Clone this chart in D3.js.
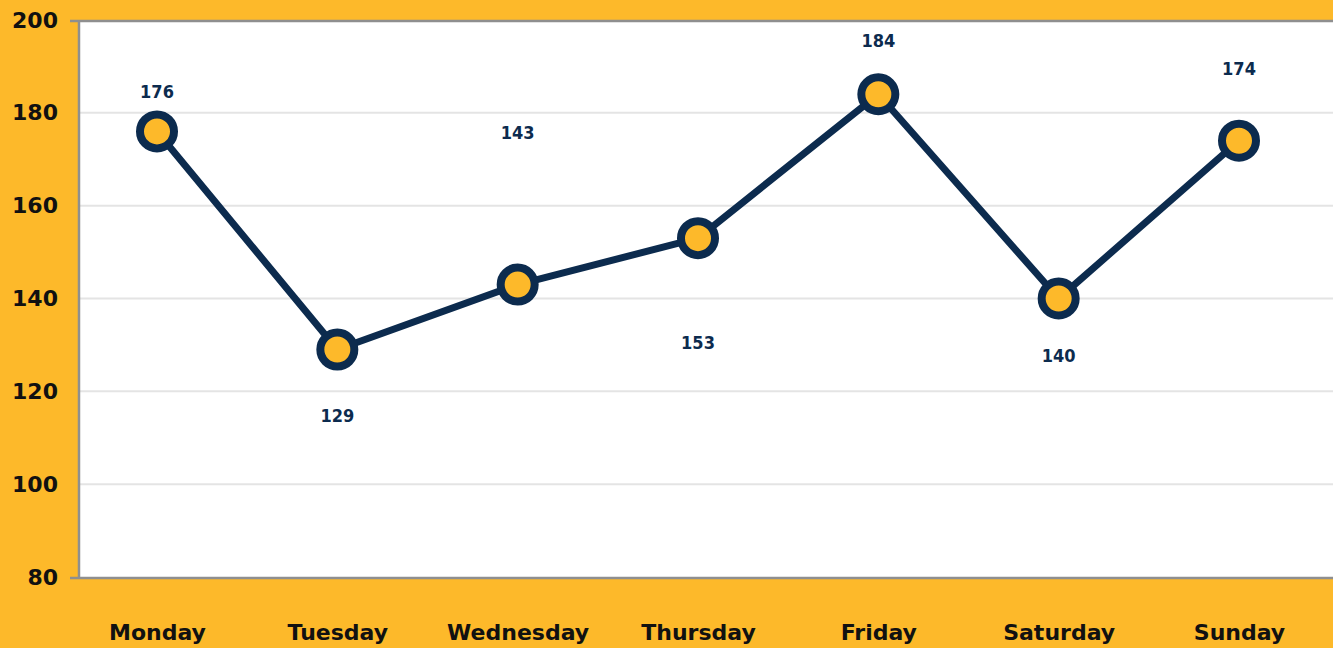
<!DOCTYPE html>
<html>
<head>
<meta charset="utf-8">
<script src="https://cdn.jsdelivr.net/npm/d3@7"></script>
<style>
  html, body { margin: 0; padding: 0; background: #FDB92A; }
  svg { display: block; }
</style>
</head>
<body>
<svg id="chart" width="1333" height="648"></svg>
<script>
// Weekly values, one per day
const days = ["Monday", "Tuesday", "Wednesday", "Thursday", "Friday", "Saturday", "Sunday"];
const values = [176, 129, 143, 153, 184, 140, 174];
const yTicks = [80, 100, 120, 140, 160, 180, 200];

// Vertical offset (px) of each value label from its point; negative = above
const labelOffsets = [-40, 66, -152, 104, -54, 57, -72];

const W = 1333, H = 648;
const plot = { left: 79, right: 1333, top: 20, bottom: 577 };
const navy = "#0c2b4e";
const gold = "#FDB92A";

const svg = d3.select("#chart");

const x = d3.scalePoint().domain(days).range([157, 1239]);
const y = d3.scaleLinear().domain([80, 200]).range([plot.bottom, plot.top]);

// white plotting area
svg.append("rect")
  .attr("x", plot.left).attr("y", plot.top)
  .attr("width", plot.right - plot.left).attr("height", plot.bottom - plot.top)
  .attr("fill", "#fff");

// light horizontal grid
svg.append("g")
  .selectAll("line")
  .data(yTicks.filter(t => t !== 80 && t !== 200))
  .join("line")
  .attr("x1", plot.left).attr("x2", plot.right)
  .attr("y1", d => y(d)).attr("y2", d => y(d))
  .attr("stroke", "#e4e4e4").attr("stroke-width", 2);

// top and bottom frame lines with short tick stubs
svg.append("g")
  .selectAll("line")
  .data([80, 200])
  .join("line")
  .attr("x1", plot.left - 9).attr("x2", plot.right)
  .attr("y1", d => y(d) + 1).attr("y2", d => y(d) + 1)
  .attr("stroke", "#8f8f8f").attr("stroke-width", 2.5);

// left axis line
svg.append("line")
  .attr("x1", plot.left).attr("x2", plot.left)
  .attr("y1", plot.top).attr("y2", plot.bottom + 2)
  .attr("stroke", "#8f8f8f").attr("stroke-width", 2.5);

// y axis labels
const yAxis = d3.axisLeft(y).tickValues(yTicks).tickSize(0).tickPadding(21);
const gy = svg.append("g").attr("transform", `translate(${plot.left},0)`).call(yAxis);
gy.select(".domain").remove();
gy.selectAll("text")
  .attr("font-family", "DejaVu Sans")
  .attr("font-weight", "bold")
  .attr("font-size", 22)
  .attr("fill", "#111");

// x axis labels
const xAxis = d3.axisBottom(x).tickSize(0).tickPadding(0);
const gx = svg.append("g").attr("transform", `translate(0,${H - 15})`).call(xAxis);
gx.select(".domain").remove();
gx.selectAll("text")
  .attr("font-family", "DejaVu Sans")
  .attr("font-weight", "bold")
  .attr("font-size", 22)
  .attr("fill", "#111")
  .attr("dy", "0.3em")
  .attr("y", 0);

// series line
const pts = days.map((d, i) => ({ day: d, value: values[i], off: labelOffsets[i] }));
const line = d3.line().x(d => x(d.day)).y(d => y(d.value));
svg.append("path")
  .datum(pts)
  .attr("d", line)
  .attr("fill", "none")
  .attr("stroke", navy)
  .attr("stroke-width", 7)
  .attr("stroke-linejoin", "round");

// markers
svg.append("g")
  .selectAll("circle")
  .data(pts)
  .join("circle")
  .attr("cx", d => x(d.day))
  .attr("cy", d => y(d.value))
  .attr("r", 17)
  .attr("fill", gold)
  .attr("stroke", navy)
  .attr("stroke-width", 8);

// value labels
svg.append("g")
  .selectAll("text")
  .data(pts)
  .join("text")
  .attr("x", d => x(d.day))
  .attr("y", d => y(d.value) + d.off)
  .attr("dy", "0.36em")
  .attr("text-anchor", "middle")
  .attr("font-family", "DejaVu Sans Condensed, DejaVu Sans")
  .attr("font-weight", "bold")
  .attr("font-size", 18)
  .attr("fill", navy)
  .text(d => d.value);
</script>
</body>
</html>
